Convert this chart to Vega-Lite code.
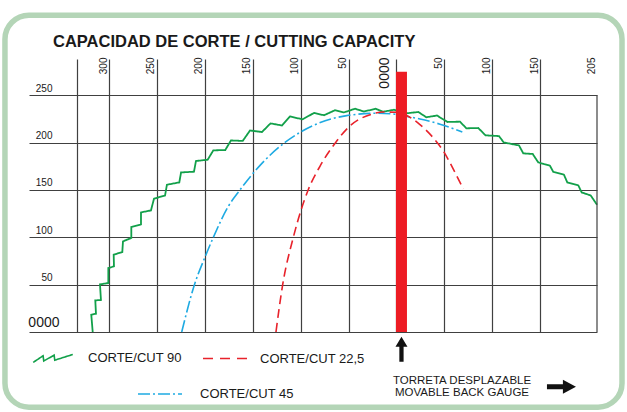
{
  "$schema": "https://vega.github.io/schema/vega-lite/v6.json",
  "width": 568,
  "height": 273,
  "autosize": {"type": "none"},
  "padding": {"left": 29, "top": 59, "right": 30, "bottom": 80},
  "background": "white",
  "config": {"view": {"stroke": null}, "font": "Liberation Sans"},
  "title": {
    "text": "CAPACIDAD DE CORTE / CUTTING CAPACITY",
    "anchor": "start",
    "frame": "group",
    "dx": 24,
    "offset": -51,
    "baseline": "alphabetic",
    "font": "Liberation Sans",
    "fontSize": 16.5,
    "fontWeight": "bold",
    "color": "#1a1a1a"
  },
  "datasets": {
    "curves": [
      {"serie": "CORTE/CUT 90", "angle": "90", "i": 1, "x": -317.1, "y": 0},
      {"serie": "CORTE/CUT 90", "angle": "90", "i": 2, "x": -318.6, "y": 18.3},
      {"serie": "CORTE/CUT 90", "angle": "90", "i": 3, "x": -313.7, "y": 19.3},
      {"serie": "CORTE/CUT 90", "angle": "90", "i": 4, "x": -314.4, "y": 33.4},
      {"serie": "CORTE/CUT 90", "angle": "90", "i": 5, "x": -308.5, "y": 33.8},
      {"serie": "CORTE/CUT 90", "angle": "90", "i": 6, "x": -309.5, "y": 50.3},
      {"serie": "CORTE/CUT 90", "angle": "90", "i": 7, "x": -300.8, "y": 51.7},
      {"serie": "CORTE/CUT 90", "angle": "90", "i": 8, "x": -300.8, "y": 67.6},
      {"serie": "CORTE/CUT 90", "angle": "90", "i": 9, "x": -294.9, "y": 69.3},
      {"serie": "CORTE/CUT 90", "angle": "90", "i": 10, "x": -295.2, "y": 81.6},
      {"serie": "CORTE/CUT 90", "angle": "90", "i": 11, "x": -286.2, "y": 84.5},
      {"serie": "CORTE/CUT 90", "angle": "90", "i": 12, "x": -285.5, "y": 95.7},
      {"serie": "CORTE/CUT 90", "angle": "90", "i": 13, "x": -276.8, "y": 99.3},
      {"serie": "CORTE/CUT 90", "angle": "90", "i": 14, "x": -276.8, "y": 110.9},
      {"serie": "CORTE/CUT 90", "angle": "90", "i": 15, "x": -266.7, "y": 113.6},
      {"serie": "CORTE/CUT 90", "angle": "90", "i": 16, "x": -266.7, "y": 126.3},
      {"serie": "CORTE/CUT 90", "angle": "90", "i": 17, "x": -256.3, "y": 128.4},
      {"serie": "CORTE/CUT 90", "angle": "90", "i": 18, "x": -253.1, "y": 140.8},
      {"serie": "CORTE/CUT 90", "angle": "90", "i": 19, "x": -241.6, "y": 144.2},
      {"serie": "CORTE/CUT 90", "angle": "90", "i": 20, "x": -239.6, "y": 155.5},
      {"serie": "CORTE/CUT 90", "angle": "90", "i": 21, "x": -226.7, "y": 158},
      {"serie": "CORTE/CUT 90", "angle": "90", "i": 22, "x": -224.9, "y": 168.5},
      {"serie": "CORTE/CUT 90", "angle": "90", "i": 23, "x": -211.4, "y": 169.3},
      {"serie": "CORTE/CUT 90", "angle": "90", "i": 24, "x": -209.3, "y": 180.6},
      {"serie": "CORTE/CUT 90", "angle": "90", "i": 25, "x": -197.1, "y": 181.9},
      {"serie": "CORTE/CUT 90", "angle": "90", "i": 26, "x": -191.2, "y": 191.8},
      {"serie": "CORTE/CUT 90", "angle": "90", "i": 27, "x": -178.7, "y": 192.2},
      {"serie": "CORTE/CUT 90", "angle": "90", "i": 28, "x": -172.8, "y": 202.3},
      {"serie": "CORTE/CUT 90", "angle": "90", "i": 29, "x": -160.5, "y": 201.8},
      {"serie": "CORTE/CUT 90", "angle": "90", "i": 30, "x": -152.9, "y": 212.8},
      {"serie": "CORTE/CUT 90", "angle": "90", "i": 31, "x": -140.4, "y": 211.2},
      {"serie": "CORTE/CUT 90", "angle": "90", "i": 32, "x": -131.5, "y": 220.3},
      {"serie": "CORTE/CUT 90", "angle": "90", "i": 33, "x": -119.5, "y": 218.1},
      {"serie": "CORTE/CUT 90", "angle": "90", "i": 34, "x": -111.2, "y": 227.6},
      {"serie": "CORTE/CUT 90", "angle": "90", "i": 35, "x": -98.1, "y": 224.6},
      {"serie": "CORTE/CUT 90", "angle": "90", "i": 36, "x": -86.1, "y": 231.3},
      {"serie": "CORTE/CUT 90", "angle": "90", "i": 37, "x": -75.7, "y": 228.9},
      {"serie": "CORTE/CUT 90", "angle": "90", "i": 38, "x": -64.2, "y": 234.2},
      {"serie": "CORTE/CUT 90", "angle": "90", "i": 39, "x": -54.8, "y": 231.9},
      {"serie": "CORTE/CUT 90", "angle": "90", "i": 40, "x": -43.3, "y": 235.8},
      {"serie": "CORTE/CUT 90", "angle": "90", "i": 41, "x": -33.9, "y": 232.8},
      {"serie": "CORTE/CUT 90", "angle": "90", "i": 42, "x": -21.9, "y": 235.8},
      {"serie": "CORTE/CUT 90", "angle": "90", "i": 43, "x": -14.1, "y": 232.6},
      {"serie": "CORTE/CUT 90", "angle": "90", "i": 44, "x": -2.6, "y": 234.7},
      {"serie": "CORTE/CUT 90", "angle": "90", "i": 45, "x": 10.6, "y": 231},
      {"serie": "CORTE/CUT 90", "angle": "90", "i": 46, "x": 22.8, "y": 232.3},
      {"serie": "CORTE/CUT 90", "angle": "90", "i": 47, "x": 31.1, "y": 226.8},
      {"serie": "CORTE/CUT 90", "angle": "90", "i": 48, "x": 42.3, "y": 228.6},
      {"serie": "CORTE/CUT 90", "angle": "90", "i": 49, "x": 53.2, "y": 221.8},
      {"serie": "CORTE/CUT 90", "angle": "90", "i": 50, "x": 66.3, "y": 222.1},
      {"serie": "CORTE/CUT 90", "angle": "90", "i": 51, "x": 72.9, "y": 215.1},
      {"serie": "CORTE/CUT 90", "angle": "90", "i": 52, "x": 85.4, "y": 215.4},
      {"serie": "CORTE/CUT 90", "angle": "90", "i": 53, "x": 92.9, "y": 207.7},
      {"serie": "CORTE/CUT 90", "angle": "90", "i": 54, "x": 107, "y": 206.9},
      {"serie": "CORTE/CUT 90", "angle": "90", "i": 55, "x": 111.9, "y": 200.2},
      {"serie": "CORTE/CUT 90", "angle": "90", "i": 56, "x": 127.9, "y": 197},
      {"serie": "CORTE/CUT 90", "angle": "90", "i": 57, "x": 132.4, "y": 188.6},
      {"serie": "CORTE/CUT 90", "angle": "90", "i": 58, "x": 142.2, "y": 188},
      {"serie": "CORTE/CUT 90", "angle": "90", "i": 59, "x": 148, "y": 179.1},
      {"serie": "CORTE/CUT 90", "angle": "90", "i": 60, "x": 160.2, "y": 175.6},
      {"serie": "CORTE/CUT 90", "angle": "90", "i": 61, "x": 163.7, "y": 169},
      {"serie": "CORTE/CUT 90", "angle": "90", "i": 62, "x": 174.8, "y": 166.1},
      {"serie": "CORTE/CUT 90", "angle": "90", "i": 63, "x": 178.3, "y": 158},
      {"serie": "CORTE/CUT 90", "angle": "90", "i": 64, "x": 189.8, "y": 154.8},
      {"serie": "CORTE/CUT 90", "angle": "90", "i": 65, "x": 193.3, "y": 147.4},
      {"serie": "CORTE/CUT 90", "angle": "90", "i": 66, "x": 202.7, "y": 144.2},
      {"serie": "CORTE/CUT 90", "angle": "90", "i": 67, "x": 209.3, "y": 134.4},
      {"serie": "CORTE/CUT 45", "angle": "45", "i": 1, "x": -224.2, "y": 0},
      {"serie": "CORTE/CUT 45", "angle": "45", "i": 2, "x": -210.9, "y": 50},
      {"serie": "CORTE/CUT 45", "angle": "45", "i": 3, "x": -199.6, "y": 79.8},
      {"serie": "CORTE/CUT 45", "angle": "45", "i": 4, "x": -191.2, "y": 99.9},
      {"serie": "CORTE/CUT 45", "angle": "45", "i": 5, "x": -175.6, "y": 132.6},
      {"serie": "CORTE/CUT 45", "angle": "45", "i": 6, "x": -163.4, "y": 150},
      {"serie": "CORTE/CUT 45", "angle": "45", "i": 7, "x": -142.4, "y": 176},
      {"serie": "CORTE/CUT 45", "angle": "45", "i": 8, "x": -116.4, "y": 200.2},
      {"serie": "CORTE/CUT 45", "angle": "45", "i": 9, "x": -100.4, "y": 211},
      {"serie": "CORTE/CUT 45", "angle": "45", "i": 10, "x": -52, "y": 228.5},
      {"serie": "CORTE/CUT 45", "angle": "45", "i": 11, "x": -20.7, "y": 231},
      {"serie": "CORTE/CUT 45", "angle": "45", "i": 12, "x": -1.6, "y": 230},
      {"serie": "CORTE/CUT 45", "angle": "45", "i": 13, "x": 10.6, "y": 227.7},
      {"serie": "CORTE/CUT 45", "angle": "45", "i": 14, "x": 24.5, "y": 225},
      {"serie": "CORTE/CUT 45", "angle": "45", "i": 15, "x": 45.4, "y": 219.5},
      {"serie": "CORTE/CUT 45", "angle": "45", "i": 16, "x": 68.7, "y": 211.2},
      {"serie": "CORTE/CUT 22,5", "angle": "22,5", "i": 1, "x": -125.8, "y": 0},
      {"serie": "CORTE/CUT 22,5", "angle": "22,5", "i": 2, "x": -118.8, "y": 50},
      {"serie": "CORTE/CUT 22,5", "angle": "22,5", "i": 3, "x": -107.7, "y": 99.9},
      {"serie": "CORTE/CUT 22,5", "angle": "22,5", "i": 4, "x": -92.1, "y": 150.3},
      {"serie": "CORTE/CUT 22,5", "angle": "22,5", "i": 5, "x": -79.9, "y": 175},
      {"serie": "CORTE/CUT 22,5", "angle": "22,5", "i": 6, "x": -63.5, "y": 200.2},
      {"serie": "CORTE/CUT 22,5", "angle": "22,5", "i": 7, "x": -50.3, "y": 216},
      {"serie": "CORTE/CUT 22,5", "angle": "22,5", "i": 8, "x": -24.2, "y": 230.5},
      {"serie": "CORTE/CUT 22,5", "angle": "22,5", "i": 9, "x": -13.8, "y": 232.3},
      {"serie": "CORTE/CUT 22,5", "angle": "22,5", "i": 10, "x": 0.2, "y": 232},
      {"serie": "CORTE/CUT 22,5", "angle": "22,5", "i": 11, "x": 10.6, "y": 228.7},
      {"serie": "CORTE/CUT 22,5", "angle": "22,5", "i": 12, "x": 24.5, "y": 219},
      {"serie": "CORTE/CUT 22,5", "angle": "22,5", "i": 13, "x": 38, "y": 205.5},
      {"serie": "CORTE/CUT 22,5", "angle": "22,5", "i": 14, "x": 49.6, "y": 190},
      {"serie": "CORTE/CUT 22,5", "angle": "22,5", "i": 15, "x": 59.3, "y": 172},
      {"serie": "CORTE/CUT 22,5", "angle": "22,5", "i": 16, "x": 69.7, "y": 151}
    ]
  },
  "layer": [
    {
      "data": {"name": "curves"},
      "transform": [{"filter": "datum.serie == 'CORTE/CUT 90'"}],
      "mark": {"type": "line", "strokeWidth": 1.8, "strokeJoin": "miter"},
      "encoding": {
        "x": {
          "field": "x", "type": "quantitative",
          "scale": {"domain": [-383.6, 209.3], "nice": false, "zero": false},
          "axis": {
            "orient": "top",
            "values": [-334, -300, -250, -200, -150, -100, -50, 0, 50, 100, 150, 209.3],
            "domain": false, "ticks": false, "grid": true,
            "gridColor": {"condition": {"test": "datum.value > 200", "value": "transparent"}, "value": "#404040"},
            "gridWidth": 1.2,
            "labelAngle": 270,
            "labelAlign": "right",
            "labelBaseline": "bottom",
            "labelPadding": 2,
            "labelExpr": "datum.value < -320 ? '' : datum.value == 0 ? '0000' : datum.value > 200 ? '205' : toString(abs(datum.value))",
            "labelFontSize": {"condition": {"test": "datum.value == 0", "value": 14}, "value": 10},
            "labelOffset": {"condition": {"test": "datum.value == 0", "value": -5}, "value": -1},
            "labelFont": "Liberation Sans",
            "labelColor": "#1a1a1a",
            "labelFlush": false, "labelOverlap": false, "labelBound": false,
            "title": null
          }
        },
        "y": {
          "field": "y", "type": "quantitative",
          "scale": {"domain": [0, 288.3], "nice": false, "zero": false},
          "axis": {
            "orient": "left",
            "values": [0, 50, 100, 150, 200, 250],
            "domain": false, "ticks": false, "grid": true,
            "gridColor": "#404040", "gridWidth": 1.2,
            "labelAlign": "right",
            "labelBaseline": "alphabetic",
            "labelPadding": {"condition": {"test": "datum.value == 0", "value": -30}, "value": -23},
            "labelOffset": {"condition": {"test": "datum.value == 0", "value": -5.5}, "value": -4},
            "labelFontSize": {"condition": {"test": "datum.value == 0", "value": 14}, "value": 10},
            "labelExpr": "datum.value == 0 ? '0000' : datum.label",
            "labelFont": "Liberation Sans",
            "labelColor": "#1a1a1a",
            "labelFlush": false, "labelOverlap": false, "labelBound": false,
            "title": null
          }
        },
        "order": {"field": "i", "type": "quantitative"},
        "color": {
          "field": "serie", "type": "nominal",
          "scale": {"domain": ["CORTE/CUT 90", "CORTE/CUT 22,5", "CORTE/CUT 45"], "range": ["#12a04a", "#e8222b", "#1eaae2"]},
          "legend": {
            "values": ["CORTE/CUT 90", "CORTE/CUT 22,5"],
            "orient": "none", "legendX": 1, "legendY": 276,
            "direction": "horizontal", "columns": 2,
            "title": null, "padding": 0,
            "symbolType": "stroke", "symbolSize": 1936, "symbolStrokeWidth": 1.6,
            "labelFont": "Liberation Sans", "labelFontSize": 13, "labelColor": "#1a1a1a",
            "labelOffset": 12, "columnPadding": 17,
            "encode": {
              "symbols": {"update": {
                "fill": {"value": "transparent"},
                "strokeDash": {"signal": "datum.value == 'CORTE/CUT 22,5' ? [10,7] : [1,0]"},
                "shape": {"signal": "datum.value == 'CORTE/CUT 90' ? 'M-0.9,0.18L-0.45,-0.12L-0.42,0.12L0.05,-0.15L0.08,0.08L0.9,-0.18' : 'stroke'"}
              }}
            }
          }
        },
        "strokeDash": {
          "field": "angle", "type": "nominal",
          "scale": {"domain": ["90", "22,5", "45"], "range": [[1, 0], [9, 5], [12, 3, 2, 3]]},
          "legend": {
            "values": ["45"],
            "labelExpr": "'CORTE/CUT 45'",
            "orient": "none", "legendX": 108, "legendY": 312,
            "title": null, "padding": 0,
            "symbolType": "stroke", "symbolSize": 1936, "symbolStrokeWidth": 1.6,
            "labelFont": "Liberation Sans", "labelFontSize": 13, "labelColor": "#1a1a1a",
            "labelOffset": 17,
            "encode": {
              "symbols": {"update": {
                "fill": {"value": "transparent"},
                "stroke": {"value": "#1eaae2"},
                "strokeDash": {"value": [16, 5, 2, 5]}
              }}
            }
          }
        }
      }
    },
    {
      "data": {"name": "curves"},
      "transform": [{"filter": "datum.serie != 'CORTE/CUT 90'"}],
      "mark": {"type": "line", "strokeWidth": 1.6, "interpolate": "monotone"},
      "encoding": {
        "x": {"field": "x", "type": "quantitative", "scale": {"domain": [-383.6, 209.3], "nice": false, "zero": false}},
        "y": {"field": "y", "type": "quantitative", "scale": {"domain": [0, 288.3], "nice": false, "zero": false}},
        "order": {"field": "i", "type": "quantitative"},
        "color": {"field": "serie", "type": "nominal"},
        "strokeDash": {"field": "angle", "type": "nominal"}
      }
    },
    {
      "data": {"values": [{}]},
      "mark": {"type": "rect", "filled": false, "stroke": "#b4d5b7", "strokeWidth": 5.5, "cornerRadius": 24},
      "encoding": {
        "x": {"datum": -408.7, "type": "quantitative"},
        "x2": {"datum": 235.4},
        "y": {"datum": 334.5, "type": "quantitative"},
        "y2": {"datum": -79.4}
      }
    },
    {
      "data": {"values": [{}]},
      "mark": {"type": "rule", "stroke": "#404040", "strokeWidth": 1.2},
      "encoding": {
        "x": {"datum": 209.3, "type": "quantitative"},
        "y": {"datum": 0, "type": "quantitative"},
        "y2": {"datum": 250}
      }
    },
    {
      "data": {"values": [{}]},
      "mark": {"type": "rule", "stroke": "#ed1c24", "strokeWidth": 11},
      "encoding": {
        "x": {"datum": 5.2, "type": "quantitative"},
        "y": {"datum": 0, "type": "quantitative"},
        "y2": {"datum": 274.9}
      }
    },
    {
      "data": {"values": [{}]},
      "mark": {"type": "point", "filled": true, "color": "#111111", "opacity": 1, "size": 625, "angle": 270,
               "shape": "M-1,-0.17L0.2,-0.17L0.2,-0.48L1,0L0.2,0.48L0.2,0.17L-1,0.17Z"},
      "encoding": {
        "x": {"datum": 5.2, "type": "quantitative"},
        "y": {"datum": -18.2, "type": "quantitative"}
      }
    },
    {
      "data": {"values": [{}]},
      "mark": {"type": "point", "filled": true, "color": "#111111", "opacity": 1, "size": 841,
               "shape": "M-1,-0.17L0.1,-0.17L0.1,-0.48L1,0L0.1,0.48L0.1,0.17L-1,0.17Z"},
      "encoding": {
        "x": {"datum": 172.2, "type": "quantitative"},
        "y": {"datum": -57.8, "type": "quantitative"}
      }
    },
    {
      "data": {"values": [{}]},
      "mark": {"type": "text", "text": ["TORRETA DESPLAZABLE", "MOVABLE BACK GAUGE"], "align": "center", "baseline": "middle",
               "font": "Liberation Sans", "fontSize": 11.5, "lineHeight": 12.5, "color": "#1a1a1a"},
      "encoding": {
        "x": {"datum": 68.4, "type": "quantitative"},
        "y": {"datum": -51.5, "type": "quantitative"}
      }
    }
  ]
}
